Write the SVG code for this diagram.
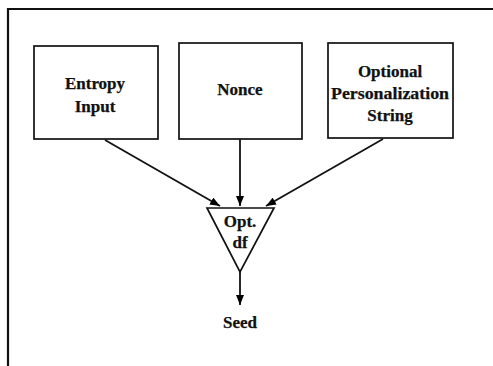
<svg xmlns="http://www.w3.org/2000/svg" width="493" height="366" viewBox="0 0 493 366">
  <defs>
    <marker id="arrow" markerWidth="10" markerHeight="8" refX="10" refY="4" orient="auto" markerUnits="userSpaceOnUse">
      <path d="M0,0 L10,4 L0,8 Z" fill="#000"/>
    </marker>
    <style>
      .box { fill: #fff; stroke: #111; stroke-width: 1.7; }
      .frame { stroke: #111; stroke-width: 2.2; fill: none; }
      .edge { stroke: #111; stroke-width: 1.8; fill: none; marker-end: url(#arrow); }
      .lbl { font-family: "Liberation Serif", "Times New Roman", serif; font-weight: bold; font-size: 17px; fill: #111; text-anchor: middle; stroke: #111; stroke-width: 0.25; }
    </style>
  </defs>
  <rect width="493" height="366" fill="#fff"/>

  <!-- outer frame: top and left edges -->
  <path class="frame" d="M8,366 L8,9 L493,9"/>

  <g id="entropy-input">
    <rect class="box" x="34" y="46" width="124" height="93"/>
    <text class="lbl" x="95" y="89">Entropy</text>
    <text class="lbl" x="95" y="112">Input</text>
  </g>

  <g id="nonce">
    <rect class="box" x="179" y="43" width="123" height="96"/>
    <text class="lbl" x="240" y="95">Nonce</text>
  </g>

  <g id="personalization">
    <rect class="box" x="328" y="43" width="125" height="95"/>
    <text class="lbl" x="390" y="77">Optional</text>
    <text class="lbl" x="390" y="99" textLength="118" lengthAdjust="spacingAndGlyphs">Personalization</text>
    <text class="lbl" x="390" y="121">String</text>
  </g>

  <g id="df">
    <path class="box" d="M207,208 L274,208 L240,272 Z"/>
    <text class="lbl" x="240" y="227">Opt.</text>
    <text class="lbl" x="240" y="248">df</text>
  </g>

  <g id="seed">
    <text class="lbl" x="240" y="328">Seed</text>
  </g>

  <g id="connectors">
    <line class="edge" x1="105" y1="140" x2="220" y2="206"/>
    <line class="edge" x1="240" y1="139" x2="240" y2="206"/>
    <line class="edge" x1="383" y1="139" x2="266" y2="206"/>
    <line class="edge" x1="240" y1="272" x2="240" y2="305"/>
  </g>
</svg>
